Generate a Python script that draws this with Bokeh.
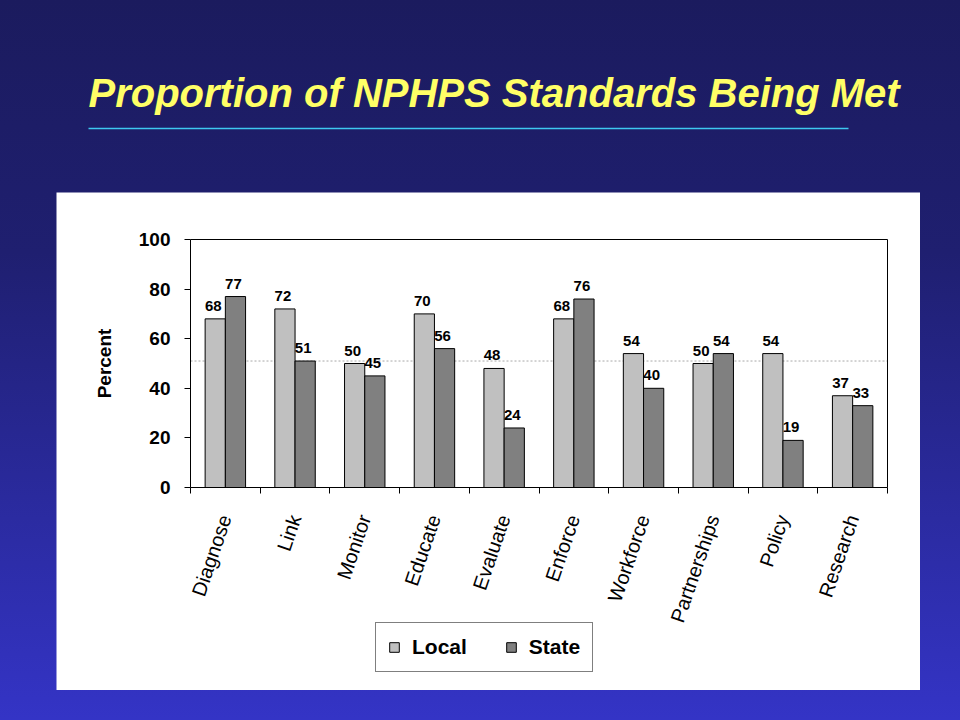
import math
from bokeh.plotting import figure
from bokeh.models import (Range1d, FixedTicker, Label, ColumnDataSource,
                          LabelSet, Legend, LegendItem)
from bokeh.layouts import column
from bokeh.core.properties import value
from bokeh.embed import file_html
from bokeh.resources import INLINE

# ---------------- data ----------------
categories = ["Diagnose", "Link", "Monitor", "Educate", "Evaluate",
              "Enforce", "Workforce", "Partnerships", "Policy", "Research"]
local_values = [68, 72, 50, 70, 48, 68, 54, 50, 54, 37]
state_values = [77, 51, 45, 56, 24, 76, 40, 54, 19, 33]
series_names = ["Local", "State"]
y_ticks = [0, 20, 40, 60, 80, 100]
reference_level = 51
title_text = "Proportion of NPHPS Standards Being Met"
y_axis_title = "Percent"

FONT = "Liberation Sans"
n = len(categories)
centers = [i + 0.5 for i in range(n)]
bar_w = 0.29
off = 0.145

src = ColumnDataSource(dict(
    cat=categories,
    xl=[c - off for c in centers],
    xs=[c + off for c in centers],
    local=local_values,
    state=state_values,
    local_lbl=[str(v) for v in local_values],
    state_lbl=[str(v) for v in state_values],
))

# ---------------- title strip ----------------
TW, TH = 960, 192
tf = figure(width=TW, height=TH, x_range=Range1d(0, TW), y_range=Range1d(0, TH),
            x_axis_type=None, y_axis_type=None, output_backend="svg",
            toolbar_location=None, min_border=0, min_border_left=0,
            min_border_right=0, min_border_top=0, min_border_bottom=0,
            border_fill_color=None, background_fill_color=None,
            outline_line_color=None, frame_align=False)
tf.xgrid.visible = False
tf.ygrid.visible = False
tf.add_layout(Label(x=88, y=TH - 92, text=title_text, text_font=FONT,
                    text_font_size="40px", text_font_style="bold italic",
                    text_color="#ffff66", text_align="left",
                    text_baseline="alphabetic"))
tf.segment(x0=[88], y0=[TH - 128], x1=[848], y1=[TH - 128],
           line_color="#3ec8f0", line_width=1.5)

# ---------------- chart panel (frame = whole white panel) ----------------
PW, PH = 864, 498
AX_L, AX_R = 134, 831        # pixel columns of x=0 and x=n inside the panel
AX_T, AX_B = 47, 295         # pixel rows of y=100 and y=0 inside the panel
ux = (AX_R - AX_L) / n
uy = (AX_B - AX_T) / (y_ticks[-1] - y_ticks[0])
x_range = Range1d(-AX_L / ux, n + (PW - AX_R) / ux)
y_range = Range1d(-(PH - AX_B) / uy, y_ticks[-1] + AX_T / uy)

p = figure(frame_width=PW, frame_height=PH, x_range=x_range, y_range=y_range,
           output_backend="svg", toolbar_location=None,
           min_border=0, min_border_left=0, min_border_right=0,
           min_border_top=0, min_border_bottom=0,
           border_fill_color="white", background_fill_color="white",
           outline_line_color=None, margin=(0, 40, 30, 56), frame_align=False)
p.xgrid.visible = False
p.ygrid.visible = False

# dotted reference line across the plot area
p.segment(x0=[0], y0=[reference_level], x1=[n], y1=[reference_level],
          line_color="#a8a8a8", line_dash="2 2", line_width=1, level="underlay")

r_local = p.vbar(x="xl", top="local", bottom=0, width=bar_w, source=src,
                 fill_color="#c0c0c0", line_color="black", line_width=1)
r_state = p.vbar(x="xs", top="state", bottom=0, width=bar_w, source=src,
                 fill_color="#808080", line_color="black", line_width=1)

# top and right border of the plot area
p.multi_line(xs=[[0, n, n]], ys=[[y_ticks[-1], y_ticks[-1], y_ticks[0]]],
             line_color="black", line_width=1)

for xcol, ycol, tcol in (("xl", "local", "local_lbl"), ("xs", "state", "state_lbl")):
    p.add_layout(LabelSet(x=xcol, y=ycol, text=tcol, source=src,
                          text_align="center", text_baseline="alphabetic",
                          x_offset=-2, y_offset=8, text_font=value(FONT),
                          text_font_size="15px", text_font_style="bold",
                          text_color="black"))

# y axis (fixed at x=0)
ya = p.yaxis[0]
ya.fixed_location = 0
ya.ticker = FixedTicker(ticks=y_ticks)
ya.bounds = (y_ticks[0], y_ticks[-1])
ya.axis_line_color = "black"
ya.major_tick_out = 6
ya.major_tick_in = 0
ya.minor_tick_out = 0
ya.minor_tick_in = 0
ya.major_label_standoff = 14
ya.major_label_text_font = FONT
ya.major_label_text_font_size = "19px"
ya.major_label_text_font_style = "bold"
ya.major_label_text_color = "black"

# y axis title
p.add_layout(Label(x=-(AX_L - 48) / ux, y=(y_ticks[0] + y_ticks[-1]) / 2,
                   text=y_axis_title, angle=math.pi / 2, text_font=FONT,
                   text_font_size="19px", text_font_style="bold",
                   text_color="black", text_align="center",
                   text_baseline="middle"))

# x axis (fixed at y=0)
xa = p.xaxis[0]
xa.fixed_location = 0
xa.bounds = (0, n)
xa.ticker = FixedTicker(ticks=centers, minor_ticks=list(range(n + 1)))
xa.major_label_overrides = {c: lab for c, lab in zip(centers, categories)}
xa.axis_line_color = "black"
xa.major_tick_out = 0
xa.major_tick_in = 0
xa.minor_tick_out = 6
xa.minor_tick_in = 0
xa.minor_tick_line_color = "black"
xa.major_label_orientation = math.radians(71)
xa.major_label_standoff = 22
xa.major_label_text_font = FONT
xa.major_label_text_font_size = "20px"
xa.major_label_text_color = "black"

legend = Legend(items=[LegendItem(label=series_names[0], renderers=[r_local]),
                       LegendItem(label=series_names[1], renderers=[r_state])],
                orientation="horizontal", location=(375 - 56, 690 - 672),
                border_line_color="black", border_line_width=1,
                background_fill_color="white", background_fill_alpha=1,
                label_text_font=FONT, label_text_font_size="21px",
                label_text_font_style="bold", label_text_color="black",
                glyph_width=12, glyph_height=12, padding=12, spacing=38,
                label_standoff=12, margin=0)
p.add_layout(legend)

layout = column(tf, p, width=960, height=720,
                styles={"background": "linear-gradient(to bottom, #1b1b5e 0%, #1f1f70 35%, #3434c6 100%)"})

open("out.html", "w").write(file_html(layout, INLINE))
